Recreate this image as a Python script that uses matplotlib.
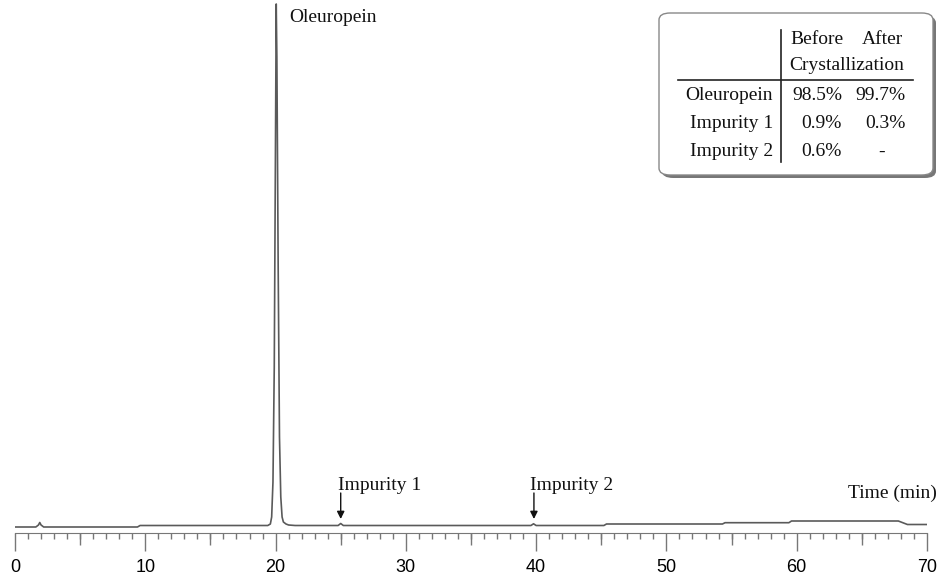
import matplotlib
matplotlib.use("Agg")
import matplotlib.pyplot as plt
from matplotlib.patches import FancyBboxPatch
from matplotlib.lines import Line2D
from matplotlib.ticker import MultipleLocator

# chromatogram trace (time in min, signal in arbitrary units)
time_min = [0.0, 1.6, 1.8, 1.9, 2.0, 2.2, 9.4, 9.6, 19.4, 19.6, 19.7, 19.8,
            19.9, 20.0, 20.05, 20.1, 20.2, 20.3, 20.4, 20.5, 20.6, 20.8, 21.0,
            21.5, 24.8, 25.0, 25.2, 39.6, 39.8, 40.0, 45.2, 45.4, 54.3, 54.5,
            59.4, 59.6, 67.8, 68.1, 68.5, 70.0]
signal = [0.0, 0.0, 2.0, 4.5, 2.0, 0.0, 0.0, 1.5, 1.5, 3.0, 10.0, 45.0,
          160.0, 400.0, 523.0, 470.0, 260.0, 90.0, 30.0, 10.0, 5.0, 3.0, 2.0,
          1.5, 1.5, 3.5, 1.5, 1.5, 3.2, 1.5, 1.5, 3.0, 3.0, 4.3,
          4.3, 6.0, 6.0, 4.5, 2.5, 2.5]

peak_names = ["Oleuropein", "Impurity 1", "Impurity 2"]
peak_times = [20.05, 25.0, 39.83]

table_rows = ["Oleuropein", "Impurity 1", "Impurity 2"]
before = ["98.5%", "0.9%", "0.6%"]
after = ["99.7%", "0.3%", "-"]

W, H = 941, 576
serif = "Liberation Serif"

fig = plt.figure(figsize=(W / 100, H / 100), dpi=100)
ax = fig.add_axes([15 / W, (H - 533) / H, 912 / W, 533 / H])

ax.plot(time_min, signal, color="#5a5a5a", lw=1.2)
ax.set_xlim(0, 70)
ax.set_ylim(-6, 527)

for s in ["left", "top", "right"]:
    ax.spines[s].set_visible(False)
ax.spines["bottom"].set_color("#777777")
ax.set_yticks([])
ax.xaxis.set_major_locator(MultipleLocator(10))
ax.xaxis.set_minor_locator(MultipleLocator(1))
ax.tick_params(axis="x", which="major", length=13, width=1, color="#777777",
               labelsize=13, pad=5.5)
ax.tick_params(axis="x", which="minor", length=4.5, width=1, color="#777777")
for lab in ax.get_xticklabels():
    lab.set_fontfamily("Liberation Sans")

# 5-minute ticks (medium length)
sec = ax.secondary_xaxis("bottom")
sec.spines["bottom"].set_visible(False)
sec.set_xticks([5, 15, 25, 35, 45, 55, 65])
sec.set_xticklabels([])
sec.tick_params(axis="x", length=8.5, width=1, color="#777777")
sec.xaxis.set_minor_locator(plt.NullLocator())

# peak labels
ax.text(21.03, 509, peak_names[0], fontsize=14, family=serif, va="center",
        color="#111111")
label_x = [24.79, 39.52]
for name, t, lx in zip(peak_names[1:], peak_times[1:], label_x):
    ax.text(lx, 37, name, fontsize=14, family=serif, va="baseline",
            color="#111111")
    ax.annotate("", xy=(t, 8), xytext=(t, 34),
                arrowprops=dict(arrowstyle="-|>", color="#111111", lw=1,
                                mutation_scale=11, shrinkA=0, shrinkB=0))

ax.text(70.76, 29, "Time (min)", fontsize=14, family=serif, ha="right",
        va="baseline", color="#111111", clip_on=False)


# table box in pixel coordinates
def fx(px):
    return px / W


def fy(py):
    return 1 - py / H


shadow = FancyBboxPatch((fx(662), fy(178)), fx(936 - 662), (178 - 16) / H,
                        boxstyle="round,pad=0,rounding_size=0.012",
                        transform=fig.transFigure, facecolor="#777777",
                        edgecolor="none")
box = FancyBboxPatch((fx(659), fy(175)), fx(933 - 659), (175 - 13) / H,
                     boxstyle="round,pad=0,rounding_size=0.012",
                     transform=fig.transFigure, facecolor="white",
                     edgecolor="#888888", lw=1)
fig.patches.append(shadow)
fig.patches.append(box)

fig.add_artist(Line2D([fx(781), fx(781)], [fy(30), fy(162)],
                      color="#222222", lw=1.2))
fig.add_artist(Line2D([fx(678), fx(913)], [fy(80), fy(80)],
                      color="#222222", lw=1.2))

tkw = dict(fontsize=14, family=serif, color="#111111", va="center")
fig.text(fx(790), fy(40), "Before", **tkw)
fig.text(fx(903), fy(40), "After", ha="right", **tkw)
fig.text(fx(846.5), fy(65), "Crystallization", ha="center", **tkw)
row_y = [95, 123, 152]
for name, b, a, yy in zip(table_rows, before, after, row_y):
    fig.text(fx(773), fy(yy), name, ha="right", **tkw)
    fig.text(fx(842), fy(yy), b, ha="right", **tkw)
    if a == "-":
        fig.text(fx(882), fy(yy), a, ha="center", **tkw)
    else:
        fig.text(fx(906), fy(yy), a, ha="right", **tkw)

fig.savefig("out.png", dpi=100)
